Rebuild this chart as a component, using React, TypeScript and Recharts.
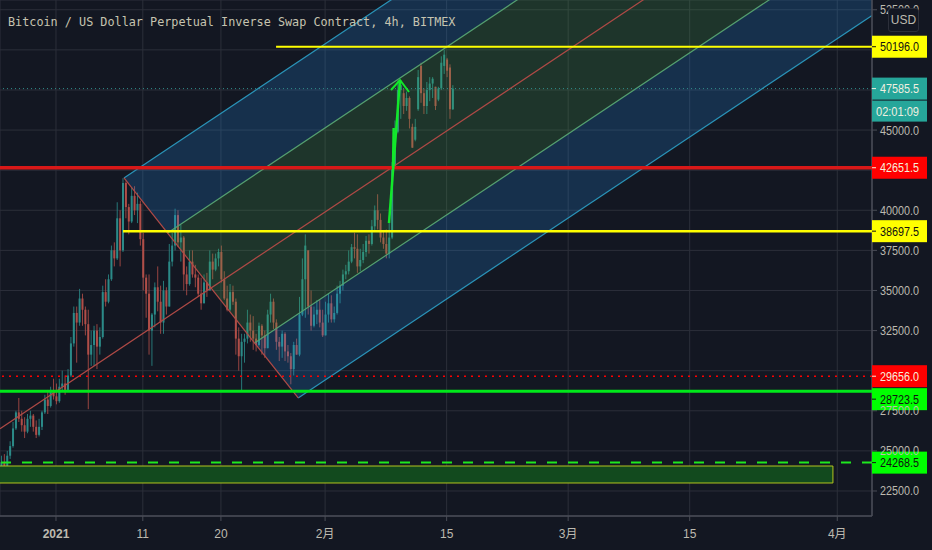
import {
  ComposedChart,
  Bar,
  Area,
  Line,
  XAxis,
  YAxis,
  CartesianGrid,
  ReferenceLine,
  ReferenceArea,
} from 'recharts';

// 4h candles thinned to one per 8h
const firstCandleDay = -6.28;
const candleStep = 1 / 3;

const opens = [
  23800, 24300, 24000, 24700, 25300, 26400, 27400, 27000, 26600, 26200, 27000, 27200, 26500, 26000, 26500, 27400,
  28200, 27800, 28800, 28400, 28100, 29000, 29200, 28800, 29700, 31700, 33600, 33000, 34500, 33800, 32900, 31000,
  31600, 32500, 31500, 32100, 34900, 34300, 35700, 37500, 37000, 39500, 37500, 41700, 40200, 39300, 40900, 40000,
  40400, 38200, 35800, 34800, 32500, 33500, 35200, 34300, 33000, 35000, 34000, 36800, 37800, 39700, 38000, 38300,
  36000, 35400, 36800, 36000, 35800, 34800, 34200, 35500, 35000, 36800, 36300, 37000, 37400, 35700, 34500, 33800,
  34900, 34300, 32000, 30900, 31800, 32000, 33000, 32500, 32000, 31600, 32800, 32200, 31400, 33500, 34300, 33000,
  31800, 31500, 32300, 31200, 30900, 30100, 31600, 31000, 33500, 35700, 37500, 34000, 32800, 33500, 33800, 33000,
  32200, 33500, 34200, 33200, 33600, 34800, 35300, 36000, 36200, 36800, 37700, 37600, 36500, 36900, 37400, 38100,
  37900, 39000, 40000, 39400, 38300, 37900, 37300, 38300, 42600, 44900, 47500, 47300, 46500, 47000, 45200, 44400,
  46300, 49000, 47300, 46500, 47500, 47900, 47700, 46900, 47600, 49000, 49400, 48900, 46300,
];
const highs = [
  24700, 24800, 25000, 25600, 26800, 27500, 28300, 27500, 27100, 27300, 27500, 27300, 26900, 27000, 27500, 28500,
  28800, 29000, 29500, 29200, 29500, 30000, 29700, 30100, 32100, 34000, 34000, 35100, 34800, 34000, 33800, 32500,
  32800, 32900, 32700, 35300, 35700, 36000, 37800, 38000, 40500, 40000, 42000, 41800, 40400, 41400, 41500, 41100,
  40600, 38600, 36000, 36000, 33600, 35500, 36500, 35300, 35600, 35200, 37900, 38600, 40100, 40000, 39100, 38400,
  36500, 37500, 37500, 36600, 36000, 35800, 36000, 36100, 37500, 37300, 37300, 37600, 37800, 36200, 35300, 35400,
  35300, 34500, 32700, 32300, 32300, 33800, 33500, 33400, 32300, 33000, 32900, 32500, 33800, 34800, 34500, 33200,
  32100, 32500, 32400, 31600, 31100, 31800, 32000, 34600, 37000, 38500, 37500, 35000, 34000, 34400, 34400, 33800,
  34300, 34800, 34700, 34000, 35300, 35600, 36300, 36600, 37500, 37900, 38600, 38500, 37600, 37900, 38400, 38500,
  39400, 40300, 41000, 39800, 38700, 38800, 39300, 43000, 45600, 48100, 48100, 47600, 47400, 47100, 45400, 45700,
  48750, 49200, 47600, 48000, 48300, 48300, 47700, 47700, 49600, 50000, 49500, 49100, 47800,
];
const lows = [
  23600, 23700, 24000, 24500, 25200, 26300, 26800, 26200, 25800, 26100, 26500, 26200, 25800, 25900, 26300, 27300,
  27300, 27700, 28200, 27900, 28000, 28700, 28500, 28700, 29600, 31500, 30500, 32800, 32800, 32200, 27600, 30300,
  30300, 30100, 31000, 32000, 34000, 34200, 35600, 36500, 36900, 36500, 37400, 39500, 38500, 39200, 39700, 39200,
  37800, 35000, 33300, 31000, 30300, 32700, 33700, 32300, 32300, 33500, 34000, 36500, 37500, 37700, 36800, 35000,
  34700, 35300, 35800, 35200, 34600, 33800, 34200, 34600, 35000, 35700, 36200, 36500, 35500, 34400, 33700, 33700,
  34100, 31000, 30000, 28750, 30500, 31700, 31800, 31300, 31200, 31500, 31000, 30800, 31400, 33000, 32600, 31300,
  30600, 30800, 30600, 30500, 29150, 29700, 31000, 30900, 33400, 33300, 33500, 32500, 32700, 32900, 32700, 32100,
  32200, 33000, 33000, 33000, 33500, 34200, 35000, 35700, 36000, 36700, 37000, 36100, 36200, 36700, 37100, 37300,
  37800, 38700, 38800, 38000, 37600, 37000, 37000, 38200, 42600, 44800, 45700, 46000, 46200, 45100, 43900, 44300,
  46200, 46700, 46000, 46000, 46800, 47000, 46250, 46800, 47500, 48500, 48300, 45700, 46250,
];
const closes = [
  24300, 24000, 24700, 25300, 26400, 27400, 27000, 26600, 26200, 27000, 27200, 26500, 26000, 26500, 27400, 28200,
  27800, 28800, 28400, 28100, 29000, 29200, 28800, 29700, 31700, 33600, 33000, 34500, 33800, 32900, 31000, 31600,
  32500, 31500, 32100, 34900, 34300, 35700, 37500, 37000, 39500, 37500, 41700, 40200, 39300, 40900, 40000, 40400,
  38200, 35800, 34800, 32500, 33500, 35200, 34300, 33000, 35000, 34000, 36800, 37800, 39700, 38000, 38300, 36000,
  35400, 36800, 36000, 35800, 34800, 34200, 35500, 35000, 36800, 36300, 37000, 37400, 35700, 34500, 33800, 34900,
  34300, 32000, 30900, 31800, 32000, 33000, 32500, 32000, 31600, 32800, 32200, 31400, 33500, 34300, 33000, 31800,
  31500, 32300, 31200, 30900, 30100, 31600, 31000, 33500, 35700, 37800, 34000, 32800, 33500, 33800, 33000, 32200,
  33500, 34200, 33200, 33600, 34800, 35300, 36000, 36200, 36800, 37700, 37600, 36500, 36900, 37400, 38100, 37900,
  39000, 40000, 39400, 38300, 37900, 37300, 38300, 42600, 44900, 47500, 47800, 46500, 47000, 45700, 43900, 45200,
  48300, 47300, 46500, 47500, 47900, 48200, 46500, 47600, 49200, 49700, 48700, 46300, 47585,
];

// pitchfork drawn on the chart: [day, price]
const topLine = [[7.83, 42014], [94, 73104]];
const upperMidLine = [[12.85, 38585], [94, 67864]];
const medianLine = [[-6.45, 26385], [94, 62627]];
const lowerMidLine = [[22.87, 31727], [94, 57391]];
const bottomLine = [[27.9, 28298], [94, 52147]];
const handleLine = [[7.83, 42014], [27.9, 28298]];

// [day, low, high]
const bandOuterTop = [[7.83, 42014, 42014], [12.85, 38585, 43825], [94, 67864, 73104]];
const bandInnerTop = [[12.85, 38585, 38585], [17.86, 35156, 40393], [94, 62627, 67864]];
const bandInnerBottom = [[17.86, 35156, 35156], [22.87, 31727, 36964], [94, 57391, 62627]];
const bandOuterBottom = [[22.87, 31727, 31727], [27.9, 28298, 33542], [94, 52147, 57391]];

const arrowShaft = [[38.36, 39207], [39.63, 48122]];
const arrowHead = [[38.59, 47499], [39.63, 48122], [40.67, 47374]];
const arrowStub = [[38.82, 42636], [38.9, 45130]];

const xTicks = [0, 10, 19, 31, 45, 59, 73, 90];
const xTickLabels = ['2021', '11', '20', '2月', '15', '3月', '15', '4月'];
const yTicks = [22500, 25000, 27500, 30000, 32500, 35000, 37500, 40000, 42500, 45000, 47500, 50000, 52500];
// these sit fully behind a price tag in the picture
const yTicksWithoutLabel = [30000, 42500, 47500, 50000];

const rowMap = new Map<number, any>();
const rowAt = (day: number) => {
  if (!rowMap.has(day)) rowMap.set(day, { day });
  return rowMap.get(day);
};
const addLine = (key: string, pts: number[][]) => pts.forEach(([d, v]) => (rowAt(d)[key] = v));
const addBand = (key: string, pts: number[][]) => pts.forEach(([d, lo, hi]) => (rowAt(d)[key] = [lo, hi]));

closes.forEach((close, i) => {
  const row = rowAt(firstCandleDay + i * candleStep);
  row.range = [lows[i], highs[i]];
  row.open = opens[i];
  row.close = close;
  row.high = highs[i];
  row.low = lows[i];
});
addLine('top', topLine);
addLine('upperMid', upperMidLine);
addLine('median', medianLine);
addLine('lowerMid', lowerMidLine);
addLine('bottom', bottomLine);
addLine('handle', handleLine);
addLine('shaft', arrowShaft);
addLine('head', arrowHead);
addLine('stub', arrowStub);
addBand('bandA', bandOuterTop);
addBand('bandB', bandInnerTop);
addBand('bandC', bandInnerBottom);
addBand('bandD', bandOuterBottom);

const table = Array.from(rowMap.values()).sort((a, b) => a.day - b.day);

const FONT = '"Liberation Sans", "Noto Sans CJK SC", sans-serif';
const TEXT = '#bdbab0';

function Candle(props: any) {
  const { x, y, width, height, payload } = props;
  if (!payload || payload.high == null) return null;
  const perUnit = height / (payload.high - payload.low);
  const up = payload.close >= payload.open;
  const color = up ? '#2b8a88' : '#b04e48';
  const top = y + (payload.high - Math.max(payload.open, payload.close)) * perUnit;
  const h = Math.max(1, Math.abs(payload.close - payload.open) * perUnit);
  const cx = x + width / 2;
  return (
    <g>
      <line x1={cx} x2={cx} y1={y} y2={y + height} stroke={color} strokeWidth={1} opacity={0.85} />
      <rect x={cx - 1} y={top} width={2} height={h} fill={color} />
    </g>
  );
}

function PriceTag({ viewBox, text, fill, color, extra, dy = 0 }: any) {
  if (!viewBox) return null;
  const left = viewBox.x + viewBox.width;
  const cy = viewBox.y + dy;
  return (
    <g>
      <rect x={left} y={cy - 11} width={55} height={22} fill={fill} />
      <line x1={left} x2={left + 4} y1={cy} y2={cy} stroke={color} />
      <text x={left + 8} y={cy + 4.5} fontSize={12.5} fontFamily={FONT} fill={color} textLength={39} lengthAdjust="spacingAndGlyphs">
        {text}
      </text>
      {extra && (
        <g>
          <rect x={left} y={cy + 12} width={55} height={21} fill={fill} />
          <text x={left + 4} y={cy + 27} fontSize={12.5} fontFamily={FONT} fill={color} textLength={43} lengthAdjust="spacingAndGlyphs">
            {extra}
          </text>
        </g>
      )}
    </g>
  );
}

function TimeTick({ x, y, payload, index }: any) {
  return (
    <text
      x={x}
      y={y + 15}
      textAnchor="middle"
      fontSize={12}
      fontFamily={FONT}
      fontWeight={index === 0 ? 700 : 400}
      fill={TEXT}
    >
      {xTickLabels[xTicks.indexOf(payload.value)]}
    </text>
  );
}

function PriceTick({ y, payload }: any) {
  if (yTicksWithoutLabel.includes(payload.value)) return null;
  return (
    <text x={880} y={y + 4.5} fontSize={12.5} fontFamily={FONT} fill={TEXT} textLength={39} lengthAdjust="spacingAndGlyphs">
      {payload.value.toFixed(1)}
    </text>
  );
}

export default function App() {
  return (
    <div style={{ position: 'absolute', left: 0, top: 0, width: 932, height: 550, background: '#131722', overflow: 'hidden' }}>
      <ComposedChart width={932} height={550} data={table} margin={{ top: 0, right: 0, bottom: 0, left: 0 }}>
        <CartesianGrid stroke="#2c2f3a" />
        <XAxis
          dataKey="day"
          type="number"
          scale="linear"
          domain={[-6.45, 94]}
          allowDataOverflow
          ticks={xTicks}
          interval={0}
          height={34}
          tick={<TimeTick />}
          tickLine={{ stroke: '#4a4d57' }}
          tickSize={5}
          axisLine={{ stroke: '#4a4d57', strokeWidth: 1.5 }}
        />
        <YAxis
          orientation="right"
          type="number"
          domain={[20941, 53109]}
          allowDataOverflow
          ticks={yTicks}
          interval={0}
          width={60}
          tick={<PriceTick />}
          tickLine={{ stroke: '#4a4d57' }}
          tickSize={5}
          axisLine={{ stroke: '#4a4d57', strokeWidth: 1.5 }}
        />

        <Bar dataKey="range" barSize={2} shape={<Candle />} zIndex={50} isAnimationActive={false} />

        <Area dataKey="bandA" type="linear" stroke="none" fill="#2196f3" fillOpacity={0.2} connectNulls dot={false} activeDot={false} isAnimationActive={false} />
        <Area dataKey="bandB" type="linear" stroke="none" fill="#4caf50" fillOpacity={0.2} connectNulls dot={false} activeDot={false} isAnimationActive={false} />
        <Area dataKey="bandC" type="linear" stroke="none" fill="#4caf50" fillOpacity={0.2} connectNulls dot={false} activeDot={false} isAnimationActive={false} />
        <Area dataKey="bandD" type="linear" stroke="none" fill="#2196f3" fillOpacity={0.2} connectNulls dot={false} activeDot={false} isAnimationActive={false} />

        <Line dataKey="top" stroke="#2a93b8" strokeWidth={1.2} connectNulls dot={false} activeDot={false} isAnimationActive={false} />
        <Line dataKey="upperMid" stroke="#55a070" strokeWidth={1.2} connectNulls dot={false} activeDot={false} isAnimationActive={false} />
        <Line dataKey="median" stroke="#b04a46" strokeWidth={1.2} connectNulls dot={false} activeDot={false} isAnimationActive={false} />
        <Line dataKey="lowerMid" stroke="#55a070" strokeWidth={1.2} connectNulls dot={false} activeDot={false} isAnimationActive={false} />
        <Line dataKey="bottom" stroke="#2a93b8" strokeWidth={1.2} connectNulls dot={false} activeDot={false} isAnimationActive={false} />
        <Line dataKey="handle" stroke="#b04a46" strokeWidth={1.2} connectNulls dot={false} activeDot={false} isAnimationActive={false} />

        <ReferenceArea x1={-7} x2={89.5} y1={22999} y2={24058} ifOverflow="hidden" fill="#124a1e" fillOpacity={1} stroke="#b4c41e" strokeWidth={1} />

        <ReferenceLine y={47585.5} zIndex={600} stroke="#2f8f8c" strokeDasharray="1 3" label={<PriceTag text="47585.5" extra="02:01:09" fill="#26a69a" color="#f0efe0" />} />
        <ReferenceLine
          segment={[{ x: 25.35, y: 50196 }, { x: 94, y: 50196 }]}
          zIndex={600}
          stroke="#ffff00"
          strokeWidth={2}
          label={<PriceTag text="50196.0" fill="#ffff00" color="#111111" />}
        />
        <ReferenceLine y={42651.5} zIndex={600} stroke="#d81818" strokeWidth={3.5} label={<PriceTag text="42651.5" fill="#ff0000" color="#f5efdc" />} />
        <ReferenceLine
          segment={[{ x: 7.72, y: 38697.5 }, { x: 94, y: 38697.5 }]}
          zIndex={600}
          stroke="#ffff00"
          strokeWidth={2.5}
          label={<PriceTag text="38697.5" fill="#ffff00" color="#111111" />}
        />
        <ReferenceLine y={29656} zIndex={600} stroke="#ff0000" strokeWidth={1.5} strokeDasharray="2 5" label={<PriceTag text="29656.0" fill="#ff0000" color="#f5efdc" />} />
        <ReferenceLine y={28723.5} zIndex={610} stroke="#00e81a" strokeWidth={3} label={<PriceTag text="28723.5" dy={8} fill="#00ff00" color="#111111" />} />
        <ReferenceLine y={24268.5} zIndex={600} stroke="#1fe81f" strokeWidth={2} strokeDasharray="10 11" label={<PriceTag text="24268.5" fill="#00ff00" color="#111111" />} />

        <Line dataKey="shaft" stroke="#12e82a" strokeWidth={2.5} connectNulls dot={false} activeDot={false} zIndex={620} isAnimationActive={false} />
        <Line dataKey="head" stroke="#12e82a" strokeWidth={2} connectNulls dot={false} activeDot={false} zIndex={620} isAnimationActive={false} />
        <Line dataKey="stub" stroke="#12e82a" strokeWidth={2.5} connectNulls dot={false} activeDot={false} zIndex={620} isAnimationActive={false} />
      </ComposedChart>

      <div
        style={{
          position: 'absolute',
          left: 8,
          top: 15,
          fontFamily: '"DejaVu Sans Mono", monospace',
          fontSize: 11.8,
          lineHeight: '14px',
          color: '#c6c4b0',
          whiteSpace: 'pre',
        }}
      >
        Bitcoin / US Dollar Perpetual Inverse Swap Contract, 4h, BITMEX
      </div>
      <div
        style={{
          position: 'absolute',
          left: 888,
          top: 8,
          width: 29,
          height: 22,
          lineHeight: '22px',
          textAlign: 'center',
          fontFamily: FONT,
          fontSize: 12,
          color: TEXT,
          background: '#131722',
          border: '1px solid #2c2f3a',
          borderRadius: 3,
        }}
      >
        USD
      </div>
    </div>
  );
}
